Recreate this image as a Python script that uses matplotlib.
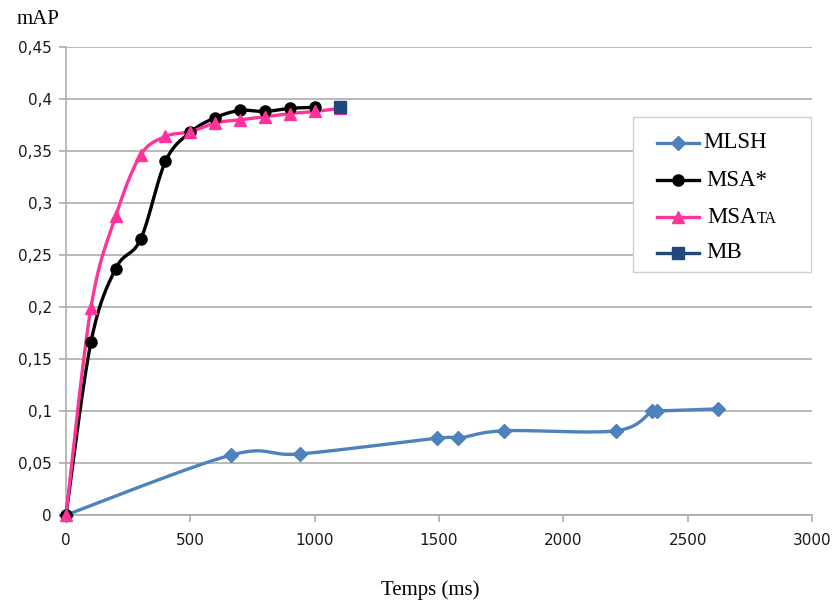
import numpy as np
import matplotlib
matplotlib.use('Agg')
import matplotlib.pyplot as plt
from matplotlib.lines import Line2D
from matplotlib.patches import Rectangle

# données
mlsh_t = [0, 665, 940, 1492, 1578, 1760, 2213, 2358, 2376, 2620]
mlsh_map = [0, 0.0577, 0.0587, 0.0738, 0.0738, 0.081, 0.081, 0.100, 0.100, 0.102]

msa_t = [0, 100, 200, 300, 400, 500, 600, 700, 800, 900, 1000]
msa_map = [0, 0.166, 0.237, 0.265, 0.340, 0.368, 0.382, 0.389, 0.388, 0.391, 0.392]

msata_t = [0, 100, 200, 300, 400, 500, 600, 700, 800, 900, 1000, 1100]
msata_map = [0, 0.199, 0.2875, 0.346, 0.364, 0.3685, 0.377, 0.380, 0.383, 0.386, 0.388, 0.391]

mb_t = [1100]
mb_map = [0.392]

xticks = [0, 500, 1000, 1500, 2000, 2500, 3000]
yticks = [0, 0.05, 0.1, 0.15, 0.2, 0.25, 0.3, 0.35, 0.4, 0.45]
ytick_labels = ['0', '0,05', '0,1', '0,15', '0,2', '0,25', '0,3', '0,35', '0,4', '0,45']

c_mlsh = '#4f81bd'
c_msa = 'black'
c_msata = '#ff3399'
c_mb = '#1f497d'
serif = 'Liberation Serif'


def smooth(x, y, n=30):
    # courbe lissée type Excel (Bezier / Catmull-Rom) entre les points
    x = np.asarray(x, float)
    y = np.asarray(y, float)
    if len(x) < 3:
        return x, y
    px = np.concatenate([[x[0]], x, [x[-1]]])
    py = np.concatenate([[y[0]], y, [y[-1]]])
    t = np.linspace(0, 1, n)
    xs, ys = [], []
    for i in range(len(x) - 1):
        p0 = np.array([px[i], py[i]])
        p1 = np.array([px[i + 1], py[i + 1]])
        p2 = np.array([px[i + 2], py[i + 2]])
        p3 = np.array([px[i + 3], py[i + 3]])
        c1 = p1 + (p2 - p0) / 6
        c2 = p2 - (p3 - p1) / 6
        b = ((1 - t) ** 3)[:, None] * p1 + (3 * (1 - t) ** 2 * t)[:, None] * c1 \
            + (3 * (1 - t) * t ** 2)[:, None] * c2 + (t ** 3)[:, None] * p2
        xs.append(b[:, 0])
        ys.append(b[:, 1])
    return np.concatenate(xs), np.concatenate(ys)


fig = plt.figure(figsize=(8.35, 6.05), dpi=100)
ax = fig.add_axes([66 / 835, 1 - 515 / 605, (812 - 66) / 835, (515 - 47) / 605])

ax.set_xlim(0, 3000)
ax.set_ylim(0, 0.45)
ax.set_xticks(xticks)
ax.set_yticks(yticks)
ax.set_yticklabels(ytick_labels)
ax.grid(axis='y', color='#a6a6a6', lw=1.1)
ax.set_axisbelow(True)
for s in ['top', 'right']:
    ax.spines[s].set_visible(False)
for s in ['left', 'bottom']:
    ax.spines[s].set_color('#a6a6a6')
    ax.spines[s].set_linewidth(1.1)
ax.tick_params(axis='both', colors='#a6a6a6', labelcolor='#1a1a1a', labelsize=11, length=5, width=1.1)
ax.tick_params(axis='x', pad=8)
ax.tick_params(axis='y', pad=5)

lw = 2.4
series = [
    (mlsh_t, mlsh_map, c_mlsh, 'D', 7),
    (msa_t, msa_map, c_msa, 'o', 8),
    (msata_t, msata_map, c_msata, '^', 8.5),
]
for t, m, c, mk, ms in series:
    sx, sy = smooth(t, m)
    ax.plot(sx, sy, color=c, lw=lw, clip_on=False, zorder=3)
    ax.plot(t, m, ls='none', marker=mk, ms=ms, color=c, clip_on=False, zorder=4)
ax.plot(mb_t, mb_map, ls='none', marker='s', ms=9, color=c_mb, clip_on=False, zorder=5)

fig.text(38 / 835, 1 - 19 / 605, 'mAP', family=serif, fontsize=15, ha='center', va='center')
fig.text(430 / 835, 1 - 590 / 605, 'Temps (ms)', family=serif, fontsize=15, ha='center', va='center')

# légende dessinée à la main (MSA avec TA en petites capitales)
W, H = 835, 605
fig.patches.append(Rectangle((633 / W, 1 - 272 / H), (811 - 633) / W, (272 - 117) / H,
                             transform=fig.transFigure, facecolor='white',
                             edgecolor='#d0d0d0', lw=1, zorder=10))
leg = [(143, 703, c_mlsh, 'D', 7, 'MLSH'), (180, 706, c_msa, 'o', 8, 'MSA*'),
       (217, 707, c_msata, '^', 8.5, 'MSA'), (253, 706, c_mb, 's', 8, 'MB')]
fig.canvas.draw()
renderer = fig.canvas.get_renderer()
for yy, xt, c, mk, ms, lab in leg:
    fy = 1 - yy / H
    fig.lines.append(Line2D([657 / W, 699 / W], [fy, fy], transform=fig.transFigure,
                            color=c, lw=lw, zorder=11))
    fig.lines.append(Line2D([678 / W], [fy], transform=fig.transFigure,
                            color=c, marker=mk, ms=ms, zorder=12))
    txt = fig.text(xt / W, fy, lab, family=serif, fontsize=16.5, va='center', ha='left', zorder=12)
    if lab == 'MSA':
        bb = txt.get_window_extent(renderer)
        fig.text(bb.x1 / W + 0.5 / W, fy - 2 / H, 'TA', family=serif, fontsize=11.5,
                 va='center', ha='left', zorder=12)

fig.savefig('out.png', dpi=100)
